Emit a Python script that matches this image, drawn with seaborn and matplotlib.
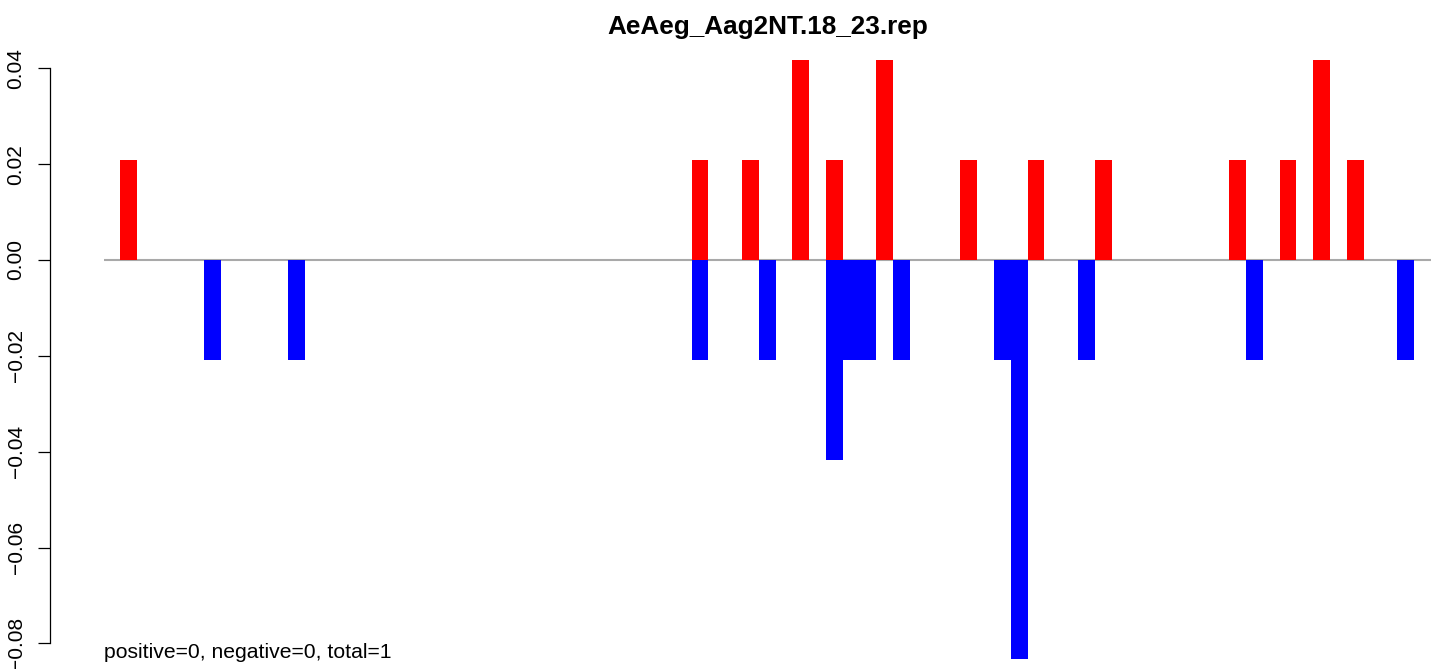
import matplotlib
matplotlib.use('Agg')
import matplotlib.pyplot as plt
import seaborn as sns
import pandas as pd
import numpy as np

# --- data (79 bins, only non-zero bins listed) ---
N_BINS = 79
POS_BINS = [1, 35, 38, 41, 43, 46, 51, 55, 59, 67, 70, 72, 74]
POS_VALUES = [0.0208, 0.0208, 0.0208, 0.0417, 0.0208, 0.0417, 0.0208,
              0.0208, 0.0208, 0.0208, 0.0208, 0.0417, 0.0208]
NEG_BINS = [6, 11, 35, 39, 43, 44, 45, 47, 53, 54, 58, 68, 77]
NEG_VALUES = [-0.0208, -0.0208, -0.0208, -0.0208, -0.0417, -0.0208, -0.0208,
              -0.0208, -0.0208, -0.0833, -0.0208, -0.0208, -0.0208]
Y_TICKS = [-0.08, -0.06, -0.04, -0.02, 0.00, 0.02, 0.04]
TITLE = 'AeAeg_Aag2NT.18_23.rep'
NOTE = 'positive=0, negative=0, total=1'

bins = list(range(N_BINS))
pos = np.zeros(N_BINS)
neg = np.zeros(N_BINS)
pos[POS_BINS] = POS_VALUES
neg[NEG_BINS] = NEG_VALUES
df = pd.DataFrame({'bin': bins, 'pos': pos, 'neg': neg})

sns.set_style('white')
plt.rcParams['font.family'] = ['Liberation Sans', 'DejaVu Sans']
plt.rcParams['text.color'] = 'black'
plt.rcParams['ytick.color'] = 'black'
plt.rcParams['axes.labelcolor'] = 'black'

fig = plt.figure(figsize=(14.44, 6.69), dpi=100)
W, H = 1444, 669
ax = fig.add_axes([50 / W, 0, (1440 - 50) / W, (669 - 37) / H])

# zero line across all bins
ax.hlines(0, -0.5, N_BINS - 0.5, color='#a9a9a9', linewidth=1.5, zorder=1)

sns.barplot(data=df, x='bin', y='pos', order=bins, color='#ff0000',
            width=1, linewidth=0, saturation=1, errorbar=None, ax=ax, zorder=2)
sns.barplot(data=df, x='bin', y='neg', order=bins, color='#0000ff',
            width=1, linewidth=0, saturation=1, errorbar=None, ax=ax, zorder=2)

px_per_bin = 16.8
ax.set_xlim(-0.5 - (103.5 - 50) / px_per_bin, -0.5 + (1440 - 103.5) / px_per_bin)
px_per_unit = 4792
ax.set_ylim(-(669 - 260) / px_per_unit, (260 - 37) / px_per_unit)

ax.set_xticks([])
ax.set_xlabel('')
ax.set_ylabel('')
ax.set_yticks(Y_TICKS)
ax.set_yticklabels([f'{t:.2f}'.replace('-', '\u2212') for t in Y_TICKS])
ax.tick_params(axis='y', left=True, length=8.6, width=0.9, labelsize=15,
               labelrotation=90, pad=9, colors='black')
for lab in ax.get_yticklabels():
    lab.set_va('center')
for s in ['top', 'right', 'bottom']:
    ax.spines[s].set_visible(False)
ax.spines['left'].set_linewidth(0.9)
ax.spines['left'].set_color('black')
ax.spines['left'].set_bounds(Y_TICKS[0], Y_TICKS[-1])

fig.text(767.5 / W, 1 - 27 / H, TITLE, ha='center', va='center',
         fontsize=18.8, fontweight='bold', color='black')
ax.text(-0.5, -(652 - 260) / px_per_unit, NOTE, ha='left', va='center',
        fontsize=15.2, color='black')

fig.savefig('out.png', dpi=100)
